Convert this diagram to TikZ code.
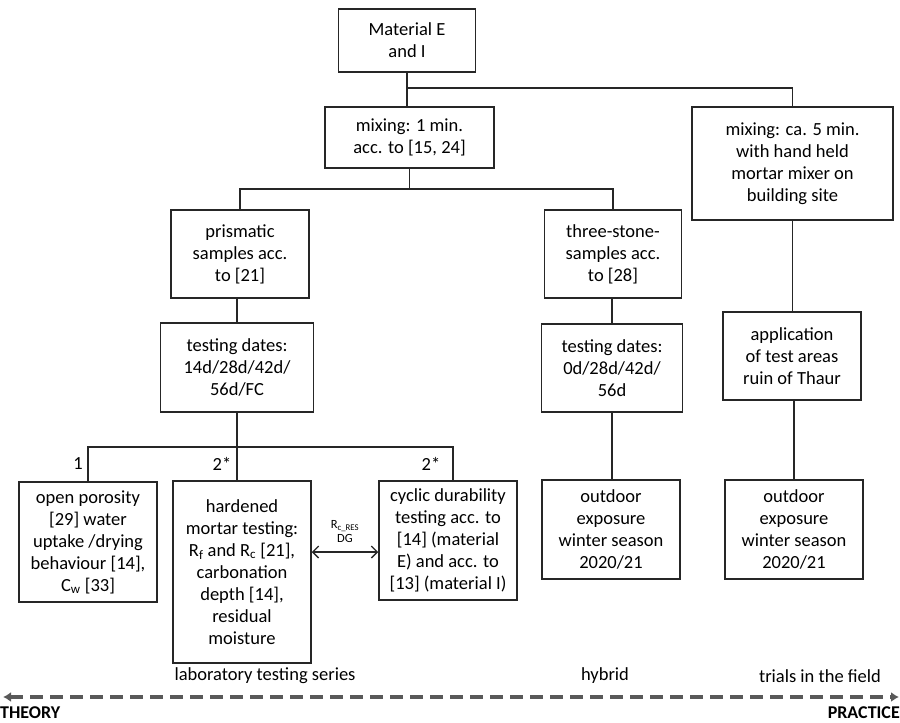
\documentclass[tikz,border=0pt]{standalone}
\usepackage{fontspec}
\setmainfont{Carlito}
\usetikzlibrary{arrows.meta}
\definecolor{lineg}{HTML}{262626}
\definecolor{dashg}{HTML}{595959}
\tikzset{
  box/.style={draw=lineg, line width=1.5pt, align=center, inner sep=0pt,
    font=\fontsize{18.5}{22}\selectfont},
  conn/.style={draw=lineg, line width=1.5pt},
  lbl/.style={font=\fontsize{18.5}{22}\selectfont, inner sep=0pt},
}
\begin{document}
\begin{tikzpicture}[x=1pt,y=-1pt]
\useasboundingbox (0,0) rectangle (900,723);
% boxes
\node[box, minimum width=137, minimum height=63] (mat) at (407,40.5) {Material E\\and I};
\node[box, minimum width=169, minimum height=61] (mix1) at (409.5,137.5) {mixing: 1 min.\\acc. to [15, 24]};
\node[box, minimum width=201, minimum height=113] (mix5) at (792.5,163.5) {mixing: ca. 5 min.\\with hand held\\mortar mixer on\\building site};
\node[box, minimum width=138, minimum height=88] (pris) at (240,254) {prismatic\\samples acc.\\to [21]};
\node[box, minimum width=137, minimum height=88] (three) at (613,254) {three-stone-\\samples acc.\\to [28]};
\node[box, minimum width=153, minimum height=89] (td1) at (237,367.5) {testing dates:\\14d/28d/42d/\\56d/FC};
\node[box, minimum width=141, minimum height=88] (td2) at (612,368) {testing dates:\\0d/28d/42d/\\56d};
\node[box, minimum width=138, minimum height=88] (app) at (792,356) {application\\of test areas\\ruin of Thaur};
\node[box, minimum width=138, minimum height=120] (open) at (88,542) {open porosity\\{}[29] water\\uptake /drying\\behaviour [14],\\C\textsubscript{w} [33]};
\node[box, minimum width=138, minimum height=182] (hard) at (242,572) {hardened\\mortar testing:\\R\textsubscript{f} and R\textsubscript{c} [21],\\carbonation\\depth [14],\\residual\\moisture};
\node[box, minimum width=138, minimum height=119] (cyc) at (448,540.5) {cyclic durability\\testing acc. to\\{}[14] (material\\E) and acc. to\\{}[13] (material I)};
\node[box, minimum width=138, minimum height=99] (out1) at (611,529.5) {outdoor\\exposure\\winter season\\2020/21};
\node[box, minimum width=138, minimum height=99] (out2) at (794,529.5) {outdoor\\exposure\\winter season\\2020/21};
% junctions
\coordinate (j1) at (407,88);
\coordinate (j2) at (409.5,189);
\coordinate (j3) at (237,447);
% connectors
\draw[conn] (mat.south) -- (j1) -- (j1 |- mix1.north);
\draw[conn] (j1) -| (mix5.north);
\draw[conn] (mix1.south) -- (j2);
\draw[conn] (pris.north) |- (j2) -| (three.north);
\draw[conn] (td1.north |- pris.south) -- (td1.north);
\draw[conn] (td1.south) -- (j3) -- (j3 |- hard.north);
\draw[conn] (open.north) |- (j3) -| ([xshift=5pt]cyc.north);
\draw[conn] (td2.north |- three.south) -- (td2.north);
\draw[conn] (td2.south) -- (td2.south |- out1.north);
\draw[conn] (mix5.south) -- (mix5.south |- app.north);
\draw[conn] ([xshift=2pt]app.south) -- ([xshift=2pt]app.south |- out2.north);
% branch labels
\node[lbl] (l1) at (78,464) {1};
\node[lbl] (l2) at (222,464) {2*};
\node[lbl] (l3) at (431,464) {2*};
% double arrow
\coordinate (a1) at (hard.east |- 0,552);
\coordinate (a2) at (cyc.west |- 0,552);
\draw[conn, line width=1.3pt, {Straight Barb[length=6pt,width=12pt]}-{Straight Barb[length=6pt,width=12pt]}] (a1) -- (a2);
\node[align=center, inner sep=0pt, font=\fontsize{12.5}{14}\selectfont] (rc) at (345,532) {R\textsubscript{c\_RES}\\DG};
% bottom scale
\node[lbl] (lab) at (265,676) {laboratory testing series};
\node[lbl] (hyb) at (605,676) {hybrid};
\node[lbl] (tri) at (820,676) {trials in the field};
\coordinate (s1) at (3,697);
\coordinate (s2) at (899,697);
\draw[draw=dashg, line width=4pt, dash pattern=on 13pt off 7pt, {Latex[length=8pt,width=10pt]}-{Latex[length=8pt,width=10pt]}] (s1) -- (s2);
\node[lbl, anchor=west, font=\fontsize{18}{20}\selectfont\bfseries] (th) at (0,713) {THEORY};
\node[lbl, anchor=east, font=\fontsize{18}{20}\selectfont\bfseries] (pr) at (900,713) {PRACTICE};
\end{tikzpicture}
\end{document}
